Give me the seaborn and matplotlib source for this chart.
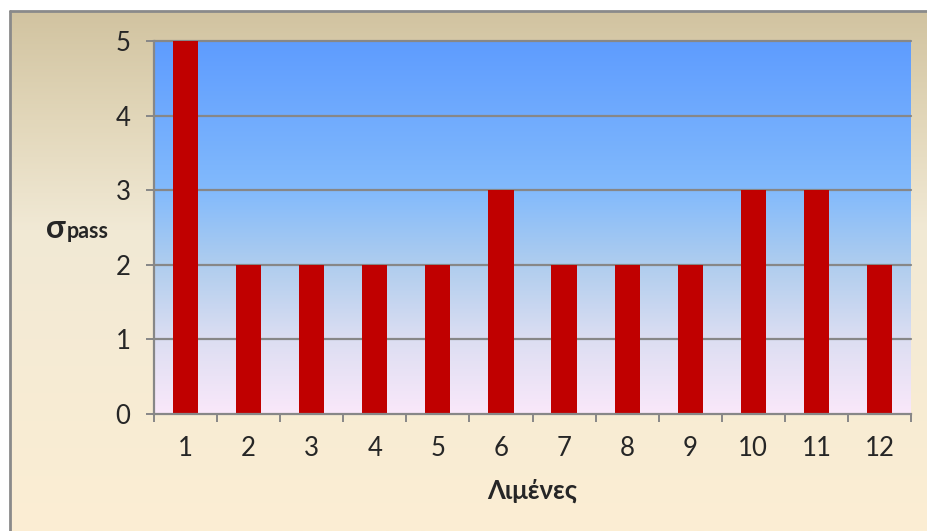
import numpy as np
import pandas as pd
import matplotlib
matplotlib.use("Agg")
import matplotlib.pyplot as plt
from matplotlib.lines import Line2D
import seaborn as sns

# Data
ports = [str(i) for i in range(1, 13)]
sigma_pass = [5, 2, 2, 2, 2, 3, 2, 2, 2, 3, 3, 2]
y_ticks = [0, 1, 2, 3, 4, 5]

sns.set_theme(style="white")
plt.rcParams['font.family'] = ['Lato', 'Open Sans', 'DejaVu Sans']

W, H = 927, 531
fig = plt.figure(figsize=(W / 100, H / 100), dpi=100)
fig.patch.set_facecolor('white')


def vertical_gradient(stops, n=400):
    """stops: list of (pos 0..1 from top, (r,g,b)) -> (n,1,3) image array."""
    pos = np.array([s[0] for s in stops])
    cols = np.array([s[1] for s in stops], dtype=float) / 255.0
    t = np.linspace(0, 1, n)
    img = np.stack([np.interp(t, pos, cols[:, k]) for k in range(3)], axis=-1)
    return img[:, None, :]


# Outer chart panel with warm gradient
panel_top = 11
bg = fig.add_axes([10 / W, 0, 1 - 10 / W, (H - panel_top) / H])
panel = vertical_gradient([
    (0.00, (209, 195, 160)),
    (0.21, (226, 215, 186)),
    (0.42, (241, 233, 213)),
    (1.00, (252, 238, 211)),
])
bg.imshow(panel, aspect='auto', extent=[0, 1, 0, 1], origin='upper')
bg.set_xlim(0, 1)
bg.set_ylim(0, 1)
bg.set_axis_off()
border = '#8a8a8a'
fig.add_artist(Line2D([10 / W, 10 / W], [0, (H - panel_top) / H], color=border, lw=2))
fig.add_artist(Line2D([10 / W, 1], [(H - panel_top) / H] * 2, color=border, lw=2))

# Plot area
ax = fig.add_axes([154 / W, 1 - 414 / H, (911 - 154) / W, 373 / H])
plot_bg = vertical_gradient([
    (0.00, (94, 156, 255)),
    (0.40, (130, 186, 252)),
    (0.60, (175, 205, 238)),
    (0.80, (220, 222, 242)),
    (1.00, (250, 232, 250)),
])
ax.imshow(plot_bg, aspect='auto', extent=[-0.5, 11.5, 0, 5], origin='upper', zorder=0)

df = pd.DataFrame({'port': ports, 'sigma': sigma_pass})
sns.barplot(data=df, x='port', y='sigma', color='#C00000', saturation=1,
            width=0.4, ax=ax, zorder=3, edgecolor='none')

ax.set_xlim(-0.5, 11.5)
ax.set_ylim(0, 5)
ax.set_xlabel('')
ax.set_ylabel('')

grid_c = '#878787'
for y in y_ticks[1:]:
    ax.axhline(y, color=grid_c, lw=1.6, zorder=1, clip_on=False)

for s in ['top', 'right']:
    ax.spines[s].set_visible(False)
for s in ['left', 'bottom']:
    ax.spines[s].set_color(grid_c)
    ax.spines[s].set_linewidth(1.6)
    ax.spines[s].set_zorder(4)

tick_fs = 18.5
ax.set_yticks(y_ticks)
ax.set_yticklabels([str(v) for v in y_ticks])
ax.tick_params(axis='y', direction='out', length=6, width=1.4, color=grid_c,
               labelsize=tick_fs, pad=11, left=True)

# Ticks at category boundaries, labels at category centres
ax.set_xticks(np.arange(-0.5, 12, 1))
ax.set_xticklabels([''] * 13)
ax.set_xticks(np.arange(12), minor=True)
ax.set_xticklabels(ports, minor=True)
ax.tick_params(axis='x', which='major', direction='out', length=6, width=1.4,
               color=grid_c, bottom=True)
ax.tick_params(axis='x', which='minor', length=0, labelsize=tick_fs, pad=16)

# Axis titles
fig.text(532 / W, 1 - 491 / H, 'Λιμένες', ha='center', va='center',
         fontsize=18.5, fontweight='bold')
sig = fig.text(46 / W, 1 - 238 / H, 'σ', ha='left', va='baseline',
               fontsize=23, fontweight='bold')
renderer = fig.canvas.get_renderer()
sig_box = sig.get_window_extent(renderer)
fig.text(sig_box.x1 / W + 1 / W, 1 - 238 / H, 'pass', ha='left', va='baseline',
         fontsize=15.5, fontweight='bold')

fig.savefig('out.png', dpi=100)
